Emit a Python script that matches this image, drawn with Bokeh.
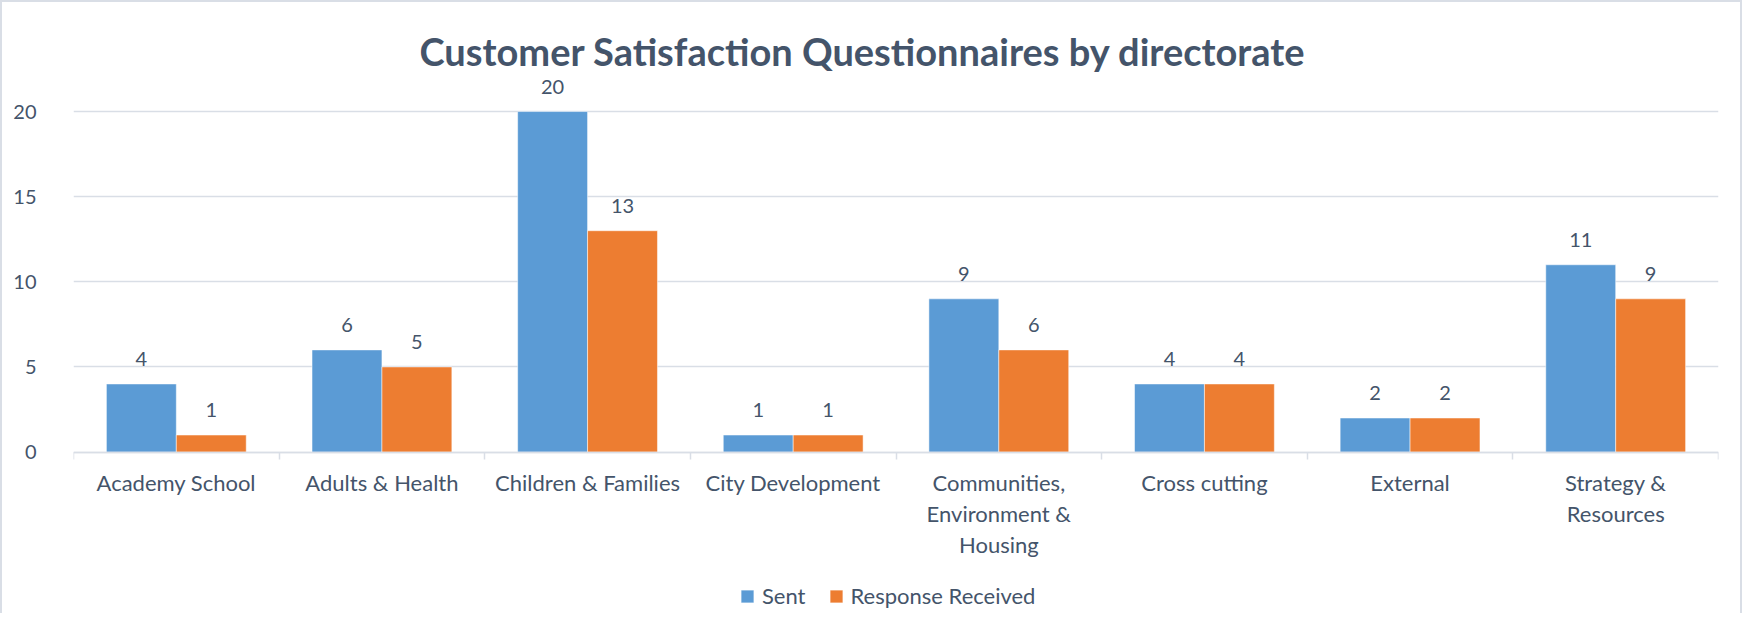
from bokeh.plotting import figure
from bokeh.models import (ColumnDataSource, Range1d, FixedTicker, Legend, LegendItem, Title)
from bokeh.core.properties import value
from bokeh.embed import file_html
from bokeh.resources import INLINE

categories = ["Academy School", "Adults & Health", "Children & Families", "City Development",
              "Communities, Environment & Housing", "Cross cutting", "External", "Strategy & Resources"]
tick_labels = ["Academy School", "Adults & Health", "Children & Families", "City Development",
               "Communities,\nEnvironment &\nHousing", "Cross cutting", "External", "Strategy &\nResources"]
sent = [4, 6, 20, 1, 9, 4, 2, 11]
received = [1, 5, 13, 1, 6, 4, 2, 9]
series_names = ["Sent", "Response Received"]
y_ticks = [0, 5, 10, 15, 20]

BLUE = "#5B9BD5"
ORANGE = "#ED7D31"
TEXT = "#44546A"
GRID = "#D9DEE6"
FONT = "Lato"

idx = list(range(len(categories)))
centers = [i + 0.5 for i in idx]
bw = 0.34
src_sent = ColumnDataSource(dict(x=[c - bw / 2 for c in centers], y=sent, lab=[str(v) for v in sent]))
src_recv = ColumnDataSource(dict(x=[c + bw / 2 for c in centers], y=received, lab=[str(v) for v in received]))

# the frame runs down to the bottom of the canvas so that the legend fits inside it;
# the x axis is pinned at y = 0
p = figure(width=1742, height=613, output_backend="svg", toolbar_location=None,
           x_range=Range1d(0, len(categories)), y_range=Range1d(-9.6, 22),
           min_border_left=71, min_border_right=26, min_border_top=75, min_border_bottom=0)
p.outline_line_color = None
p.background_fill_color = "white"
p.border_fill_color = "white"
p.styles = {"border-left": "2px solid " + GRID, "border-top": "2px solid " + GRID,
            "border-right": "2px solid " + GRID}

t = Title(text="Customer Satisfaction Questionnaires by directorate", align="left",
          text_font=FONT, text_font_size="38px", text_font_style="bold", text_color=TEXT,
          standoff=8, offset=346)
p.add_layout(t, "above")

r1 = p.vbar(x="x", top="y", width=bw, source=src_sent, fill_color=BLUE, line_color="white",
            line_width=1, line_alpha=0.5)
r2 = p.vbar(x="x", top="y", width=bw, source=src_recv, fill_color=ORANGE, line_color="white",
            line_width=1, line_alpha=0.5)

for s in (src_sent, src_recv):
    p.text(x="x", y="y", text="lab", source=s, text_font=value(FONT), text_font_size="20px",
           text_color=TEXT, text_align="center", text_baseline="middle", y_offset=-25)

# x axis
xa = p.xaxis[0]
xa.fixed_location = 0
xa.ticker = FixedTicker(ticks=centers, minor_ticks=[float(i) for i in range(len(categories) + 1)])
xa.major_label_overrides = {c: lab for c, lab in zip(centers, tick_labels)}
xa.major_tick_in = 0
xa.major_tick_out = 0
xa.minor_tick_in = 0
xa.minor_tick_out = 7
xa.minor_tick_line_color = GRID
xa.minor_tick_line_width = 1.5
xa.axis_line_color = GRID
xa.axis_line_width = 1.5
xa.major_label_text_font = FONT
xa.major_label_text_font_size = "22px"
xa.major_label_text_color = TEXT
xa.major_label_text_line_height = 1.15
xa.major_label_standoff = 10

# y axis
ya = p.yaxis[0]
ya.ticker = FixedTicker(ticks=y_ticks)
ya.axis_line_color = None
ya.major_tick_line_color = None
ya.minor_tick_line_color = None
ya.major_label_text_font = FONT
ya.major_label_text_font_size = "20px"
ya.major_label_text_color = TEXT
ya.major_label_standoff = 31

p.xgrid.grid_line_color = None
p.ygrid.grid_line_color = GRID
p.ygrid.grid_line_width = 1.5

legend = Legend(items=[LegendItem(label=series_names[0], renderers=[r1]),
                       LegendItem(label=series_names[1], renderers=[r2])],
                orientation="horizontal", location=(666, 6),
                label_text_font=FONT, label_text_font_size="22px", label_text_color=TEXT,
                glyph_width=16, glyph_height=16, label_standoff=7, spacing=22,
                border_line_color=None, background_fill_alpha=0, margin=0, padding=4)
p.add_layout(legend, "center")

open("out.html", "w").write(file_html(p, INLINE))
